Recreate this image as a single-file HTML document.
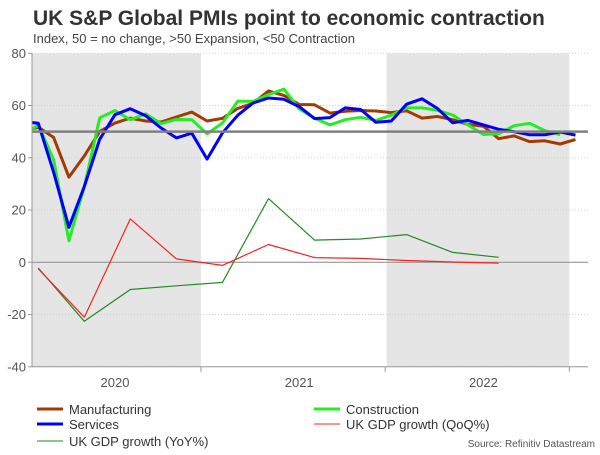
<!DOCTYPE html>
<html><head><meta charset="utf-8"><style>
body{margin:0;background:#fff;font-family:"Liberation Sans",Arial,sans-serif;}
svg text{font-family:"Liberation Sans",Arial,sans-serif;}
</style></head><body>
<svg id="chart" width="600" height="450" xmlns="http://www.w3.org/2000/svg">
<text x="33" y="25" font-size="21" font-weight="bold" fill="#333">UK S&amp;P Global PMIs point to economic contraction</text>
<text x="33" y="43" font-size="13" fill="#444">Index, 50 = no change, &gt;50 Expansion, &lt;50 Contraction</text>
<defs><clipPath id="pc"><rect x="32" y="40" width="560" height="330"/></clipPath></defs>
<g id="bg"></g><g id="grid"></g><g id="series" clip-path="url(#pc)"></g><g id="axes"></g>
<g font-size="13" fill="#333">
<g><line x1="37" y1="409" x2="63" y2="409" stroke="#a33b00" stroke-width="3"/><text x="69" y="414">Manufacturing</text></g>
<g><line x1="314" y1="409" x2="340" y2="409" stroke="#22ee22" stroke-width="3"/><text x="346" y="414">Construction</text></g>
<g><line x1="37" y1="424" x2="63" y2="424" stroke="#0000ff" stroke-width="3"/><text x="69" y="429">Services</text></g>
<g><line x1="314" y1="424" x2="340" y2="424" stroke="#ff2020" stroke-width="1"/><text x="346" y="429">UK GDP growth (QoQ%)</text></g>
<g><line x1="37" y1="441" x2="63" y2="441" stroke="#228b22" stroke-width="1"/><text x="69" y="446">UK GDP growth (YoY%)</text></g>
</g>
<text x="595" y="447" font-size="10" fill="#555" text-anchor="end">Source: Refinitiv Datastream</text>
</svg>
<script>
// months from Jan 2020 (index 0)
const manufacturing=[50.0,51.7,47.8,32.6,40.7,50.1,53.3,55.2,54.1,53.7,55.6,57.5,54.1,55.1,58.9,60.9,65.6,63.9,60.4,60.3,57.1,57.8,58.1,57.9,57.3,58.0,55.2,55.8,54.6,52.8,52.1,47.3,48.4,46.2,46.5,45.3,47.0];
const services=[53.9,53.2,34.5,13.4,29.0,47.1,56.5,58.8,56.1,51.4,47.6,49.4,39.5,49.5,56.3,61.0,62.9,62.4,59.6,55.0,55.4,59.1,58.5,53.6,54.1,60.5,62.6,58.9,53.4,54.3,52.6,50.9,50.0,48.8,48.8,49.9,48.7];
const construction=[48.4,52.6,39.3,8.2,28.9,55.3,58.1,54.6,56.8,53.1,54.7,54.6,49.2,53.3,61.7,61.6,64.2,66.3,58.7,55.2,52.6,54.6,55.5,54.3,56.3,59.1,59.1,58.2,56.4,52.6,48.9,49.2,52.3,53.2,50.4,48.8];
// quarterly, plotted at middle month of quarter (Feb 2020 = month 1)
const gdpQoQ=[-2.5,-21.0,16.6,1.3,-1.2,6.8,1.8,1.5,0.7,0.1,-0.3];
const gdpYoY=[-2.2,-22.6,-10.4,-9.0,-7.7,24.4,8.5,8.9,10.6,3.8,1.9];
const yTicks=[80,60,40,20,0,-20,-40];
const yearLabels=["2020","2021","2022"];

const NS="http://www.w3.org/2000/svg";
const X=i=>22.9+15.35*i;
const Y=v=>262.3-v*2.6125;
function mk(tag,attrs,parent){const e=document.createElementNS(NS,tag);for(const k in attrs)e.setAttribute(k,attrs[k]);document.getElementById(parent).appendChild(e);return e;}

// shaded years
[[0,1],[2,3]].forEach((p,k)=>{
  const x1=Math.max(32,X(p[0]*12-0.3)), x2=X(p[0]*12+11.6);
  const r=mk('rect',{x:x1,y:Y(80),width:x2-x1,height:Y(-40)-Y(80),fill:'#e5e5e5'},'bg');
  
  
});
// grid & y labels
yTicks.forEach(v=>{
  const l=mk('line',{x1:32,x2:588,y1:Y(v),y2:Y(v),stroke:'#d0d0d0','stroke-dasharray':'1,2','stroke-width':1},'grid');
  
  
  const t=mk('line',{x1:28,x2:32,y1:Y(v),y2:Y(v),stroke:'#999'},'axes');
  
  
  const tx=mk('text',{x:26,y:Y(v)+4.5,'text-anchor':'end','font-size':13,fill:'#555'},'axes');
  tx.textContent=v;
  
  
});
const z=mk('line',{x1:32,x2:588,y1:Y(0),y2:Y(0),stroke:'#999','stroke-width':1.2},'grid');


// axes
const ya=mk('line',{x1:32,x2:32,y1:Y(80),y2:Y(-40),stroke:'#999'},'axes');


const xa=mk('line',{x1:32,x2:588,y1:Y(-40),y2:Y(-40),stroke:'#999'},'axes');


yearLabels.forEach((s,k)=>{
  const tk=mk('line',{x1:X(k*12+11.6),x2:X(k*12+11.6),y1:Y(-40),y2:Y(-40)+5,stroke:'#999'},'axes');
  
  
  const t=mk('text',{x:X(k*12+6),y:Y(-40)+20,'text-anchor':'middle','font-size':13,fill:'#555'},'axes');
  t.textContent=s;
  
  
});
function line(vals,xf,color,w,name){
  const pts=vals.map((v,i)=>xf(i).toFixed(1)+','+Y(v).toFixed(1)).join(' ');
  const p=mk('polyline',{points:pts,fill:'none',stroke:color,'stroke-width':w,'stroke-linejoin':'round'},'series');
  
  
}
const q=i=>X(1+3*i);
line(gdpYoY,q,'#228b22',1.2,'gdp-yoy-line');
line(gdpQoQ,q,'#ff2020',1.2,'gdp-qoq-line');
line(manufacturing,X,'#a33b00',3,'manufacturing-line');
line(construction,X,'#22ee22',3,'construction-line');
line(services,X,'#0000ff',3,'services-line');
const f=mk('line',{x1:32,x2:588,y1:Y(50),y2:Y(50),stroke:'#808080','stroke-width':2.5},'series');


</script>
</body></html>
